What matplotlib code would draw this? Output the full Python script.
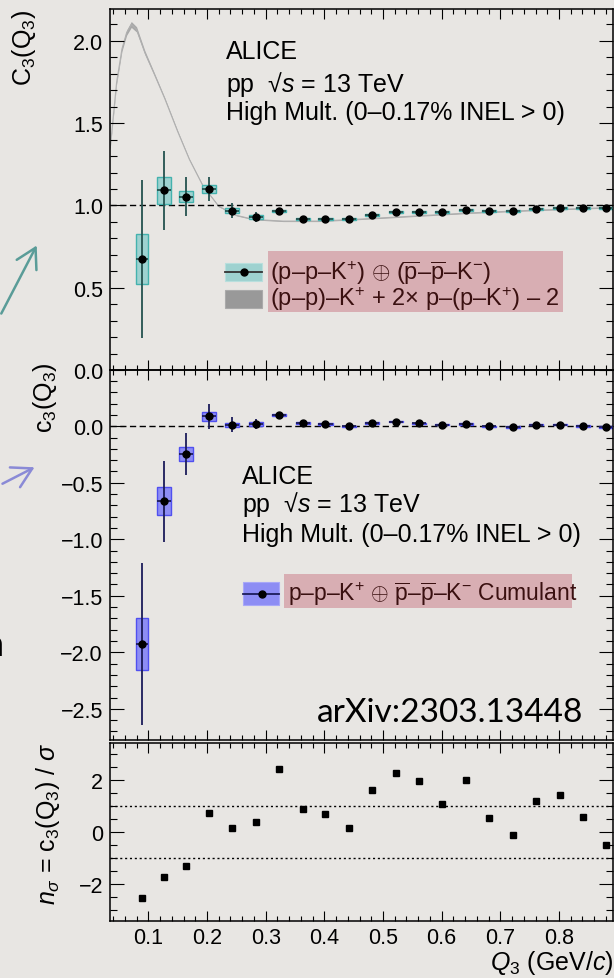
import matplotlib
matplotlib.use('Agg')
import matplotlib.pyplot as plt
from matplotlib.patches import Rectangle, FancyArrowPatch
from matplotlib.lines import Line2D
from matplotlib.ticker import MultipleLocator, FixedLocator, FuncFormatter

plt.rcParams['font.family'] = ['Liberation Sans', 'DejaVu Sans']
plt.rcParams['mathtext.fontset'] = 'custom'
plt.rcParams['mathtext.rm'] = 'Liberation Sans'
plt.rcParams['mathtext.it'] = 'Liberation Sans:italic'
plt.rcParams['mathtext.sf'] = 'Liberation Sans'
plt.rcParams['axes.unicode_minus'] = True

# data
q = [0.089, 0.126, 0.165, 0.204, 0.243, 0.283, 0.322, 0.363, 0.402, 0.442, 0.481,
     0.522, 0.561, 0.601, 0.641, 0.681, 0.721, 0.761, 0.801, 0.841, 0.880]
box_half = [0.0105] + [0.012] * 20

C3 = [0.675, 1.091, 1.054, 1.100, 0.967, 0.929, 0.967, 0.918, 0.917, 0.917, 0.943,
      0.958, 0.959, 0.958, 0.972, 0.966, 0.966, 0.980, 0.984, 0.984, 0.984]
C3_stat = [0.48, 0.238, 0.12, 0.074, 0.045, 0.03, 0.02, 0.015, 0.012, 0.011, 0.011,
           0.01, 0.01, 0.01, 0.01, 0.01, 0.01, 0.01, 0.01, 0.01, 0.01]
C3_sys = [0.15, 0.08, 0.036, 0.022, 0.015, 0.01, 0.008, 0.006, 0.006, 0.006, 0.006,
          0.006, 0.006, 0.006, 0.006, 0.006, 0.006, 0.006, 0.006, 0.006, 0.006]

c3 = [-1.927, -0.664, -0.245, 0.088, 0.012, 0.02, 0.1, 0.029, 0.02, 0.0, 0.029,
      0.041, 0.027, 0.014, 0.02, 0.0, -0.006, 0.012, 0.012, 0.003, -0.006]
c3_stat = [0.72, 0.36, 0.183, 0.11, 0.066, 0.047, 0.03, 0.025, 0.02, 0.017, 0.015,
           0.015, 0.014, 0.013, 0.012, 0.012, 0.012, 0.012, 0.012, 0.012, 0.012]
c3_sys = [0.23, 0.125, 0.06, 0.037, 0.02, 0.015, 0.01, 0.008, 0.007, 0.006, 0.005,
          0.005, 0.005, 0.005, 0.005, 0.005, 0.005, 0.005, 0.005, 0.005, 0.005]

nsig = [-2.55, -1.74, -1.30, 0.73, 0.17, 0.38, 2.41, 0.88, 0.68, 0.17, 1.63,
        2.26, 1.95, 1.06, 2.0, 0.55, -0.10, 1.19, 1.41, 0.56, -0.49]

# gray band (p-p)-K+ + 2x p-(p-K+) - 2
th_q = [0.035, 0.040, 0.046, 0.055, 0.063, 0.071, 0.080, 0.094, 0.110, 0.128, 0.150,
        0.170, 0.193, 0.220, 0.250, 0.280, 0.330, 0.390, 0.450, 0.550, 0.650, 0.750, 0.892]
th_v = [1.35, 1.53, 1.75, 1.95, 2.05, 2.10, 2.07, 1.93, 1.80, 1.65, 1.45,
        1.28, 1.12, 0.995, 0.94, 0.915, 0.905, 0.905, 0.915, 0.935, 0.955, 0.97, 0.988]
th_w = [0.008, 0.01, 0.012, 0.014, 0.016, 0.018, 0.016, 0.012, 0.008, 0.006, 0.005,
        0.004, 0.004, 0.003, 0.003, 0.003, 0.003, 0.003, 0.003, 0.003, 0.003, 0.003, 0.003]

W, H = 614, 979
bg = '#e8e6e3'


def fx(x):
    return x / W


def fy(y):
    return 1 - y / H


def one_dec(v, pos):
    return ('%.1f' % v).replace('-', '\u2212')


fig = plt.figure(figsize=(W / 100, H / 100), dpi=100, facecolor=bg)

ax1 = fig.add_axes([fx(110), fy(371), 503 / W, 361 / H])
ax2 = fig.add_axes([fx(110), fy(741), 503 / W, 370 / H])
ax3 = fig.add_axes([fx(110), fy(922), 503 / W, 178 / H])

for ax in (ax1, ax2, ax3):
    ax.set_facecolor('none')
    ax.set_xlim(0.0347, 0.8921)
    ax.xaxis.set_major_locator(FixedLocator([0.1, 0.2, 0.3, 0.4, 0.5, 0.6, 0.7, 0.8]))
    ax.xaxis.set_minor_locator(MultipleLocator(0.02))
    ax.tick_params(which='both', direction='in', top=True, right=True, width=0.8,
                   labelsize=15.5, colors='k')
    ax.tick_params(axis='y', which='major', length=10, pad=5)
    ax.tick_params(axis='y', which='minor', length=5)
    ax.tick_params(axis='x', which='major', length=7, pad=4)
    ax.tick_params(axis='x', which='minor', length=3.6)
    for s in ax.spines.values():
        s.set_linewidth(1.1)
ax1.tick_params(labelbottom=False)
ax2.tick_params(labelbottom=False)

# top panel: C3
ax1.set_ylim(0.0, 2.194)
ax1.yaxis.set_major_locator(FixedLocator([0.0, 0.5, 1.0, 1.5, 2.0]))
ax1.yaxis.set_minor_locator(MultipleLocator(0.1))
ax1.yaxis.set_major_formatter(FuncFormatter(one_dec))
lo = [v - w for v, w in zip(th_v, th_w)]
hi = [v + w for v, w in zip(th_v, th_w)]
ax1.fill_between(th_q, lo, hi, color='#a8a8a8', lw=0, zorder=1)
ax1.plot(th_q, th_v, color='#b0b0b0', lw=0.8, zorder=1)
ax1.axhline(1.0, color='k', lw=1.0, ls=(0, (4.5, 2.5)), zorder=2)
ax1.bar(q, [2 * s for s in C3_sys], bottom=[v - s for v, s in zip(C3, C3_sys)],
        width=[2 * h for h in box_half], color='#9ed2d0', edgecolor='#44b2ae', lw=1.0, zorder=2)
ax1.errorbar(q, C3, yerr=C3_stat, xerr=box_half, fmt='o', ms=5, mfc='k', mec='k',
             ecolor='#24524f', elinewidth=1.3, capsize=0, zorder=3)

# middle panel: c3
ax2.set_ylim(-2.776, 0.498)
ax2.yaxis.set_major_locator(FixedLocator([-2.5, -2.0, -1.5, -1.0, -0.5, 0.0]))
ax2.yaxis.set_minor_locator(MultipleLocator(0.1))
ax2.yaxis.set_major_formatter(FuncFormatter(one_dec))
ax2.axhline(0.0, color='k', lw=1.0, ls=(0, (4.5, 2.5)), zorder=2)
ax2.bar(q, [2 * s for s in c3_sys], bottom=[v - s for v, s in zip(c3, c3_sys)],
        width=[2 * h for h in box_half], color='#8d8df4', edgecolor='#5050f0', lw=1.0, zorder=2)
ax2.errorbar(q, c3, yerr=c3_stat, xerr=box_half, fmt='o', ms=5, mfc='k', mec='k',
             ecolor='#1c1c5a', elinewidth=1.3, capsize=0, zorder=3)

# bottom panel: n_sigma
ax3.set_ylim(-3.42, 3.42)
ax3.yaxis.set_major_locator(FixedLocator([-2, 0, 2]))
ax3.yaxis.set_minor_locator(MultipleLocator(0.5))
ax3.axhline(1, color='k', lw=1.0, ls=(0, (1.5, 2)))
ax3.axhline(-1, color='k', lw=1.0, ls=(0, (1.5, 2)))
ax3.plot(q, nsig, 's', color='k', ms=4.5, zorder=3)

# axis titles
fig.text(fx(24), fy(10), r'C$_{3}$(Q$_{3}$)', rotation=90, ha='center', va='top', fontsize=18)
fig.text(fx(45), fy(362), r'c$_{3}$(Q$_{3}$)', rotation=90, ha='center', va='top', fontsize=18)
fig.text(fx(48), fy(743), r'$n_{\sigma}$ = c$_{3}$(Q$_{3}$) / $\sigma$', rotation=90,
         ha='center', va='top', fontsize=18)
fig.text(fx(613), fy(970), r'$Q_{3}$ (GeV/$c$)', ha='right', va='baseline', fontsize=18)

# ALICE labels
for x0, ys in ((226, (59, 92, 120)), (242, (484, 512, 542))):
    fig.text(fx(x0), fy(ys[0]), 'ALICE', fontsize=18, va='baseline')
    fig.text(fx(x0), fy(ys[1]), 'pp  \u221a$s$ = 13 TeV', fontsize=18, va='baseline')
    fig.text(fx(x0), fy(ys[2]), 'High Mult. (0–0.17% INEL > 0)', fontsize=18, va='baseline')

# legends with pink highlight
pink = '#d8aeb3'
txt = '#3a1010'
fig.add_artist(Rectangle((fx(268), fy(313)), (563 - 268) / W, (313 - 252) / H,
                         transform=fig.transFigure, color=pink, lw=0, zorder=1))
fig.add_artist(Rectangle((fx(284), fy(609)), (572 - 284) / W, (609 - 575) / H,
                         transform=fig.transFigure, color=pink, lw=0, zorder=1))

fig.add_artist(Rectangle((fx(225), fy(282)), 37 / W, 18 / H, transform=fig.transFigure,
                         facecolor='#9ed2d0', edgecolor='#b8dfdd', lw=0.8, zorder=2))
fig.add_artist(Line2D([fx(225), fx(262)], [fy(273), fy(273)], transform=fig.transFigure,
                      color='#333333', lw=1.3, zorder=3))
fig.add_artist(Line2D([fx(243.5)], [fy(273)], transform=fig.transFigure, marker='o',
                      ms=5, color='k', zorder=4))
fig.add_artist(Rectangle((fx(225), fy(309)), 37 / W, 18 / H, transform=fig.transFigure,
                         facecolor='#999999', edgecolor='#aaaaaa', lw=0.8, zorder=2))
fig.text(fx(270), fy(280), r'(p–p–K$^{+}$) ${\oplus}$ ($\overline{\mathrm{p}}$–$\overline{\mathrm{p}}$–K$^{-}$)',
         fontsize=17, va='baseline', color=txt, zorder=5)
fig.text(fx(270), fy(306), r'(p–p)–K$^{+}$ + 2$\times$ p–(p–K$^{+}$) – 2',
         fontsize=17, va='baseline', color=txt, zorder=5)

fig.add_artist(Rectangle((fx(243), fy(606)), 36 / W, 23 / H, transform=fig.transFigure,
                         facecolor='#8d8df4', edgecolor='#a8a8f8', lw=0.8, zorder=2))
fig.add_artist(Line2D([fx(243), fx(279)], [fy(594.7), fy(594.7)], transform=fig.transFigure,
                      color='#1c1c5a', lw=1.3, zorder=3))
fig.add_artist(Line2D([fx(261.5)], [fy(594.7)], transform=fig.transFigure, marker='o',
                      ms=5, color='k', zorder=4))
fig.text(fx(288), fy(601.5), r'p–p–K$^{+}$ ${\oplus}$ $\overline{\mathrm{p}}$–$\overline{\mathrm{p}}$–K$^{-}$ Cumulant',
         fontsize=16.5, va='baseline', color=txt, zorder=5)

# slide decorations
fig.text(fx(583), fy(722), 'arXiv:2303.13448', family='Lato', fontsize=24,
         ha='right', va='baseline', color='k')
fig.text(fx(4), fy(646), 'n', family='Lato', fontsize=26, ha='right', va='center', color='k')
fig.add_artist(FancyArrowPatch((fx(0), fy(317)), (fx(38), fy(244)), transform=fig.transFigure,
                               arrowstyle='->,head_length=0.7,head_width=0.4', mutation_scale=20,
                               color='#5a9c98', lw=1.8))
fig.add_artist(FancyArrowPatch((fx(0), fy(486)), (fx(37), fy(467)), transform=fig.transFigure,
                               arrowstyle='->,head_length=0.7,head_width=0.4', mutation_scale=20,
                               color='#8a8ad6', lw=1.8))

fig.savefig('out.png', dpi=100, facecolor=bg)
